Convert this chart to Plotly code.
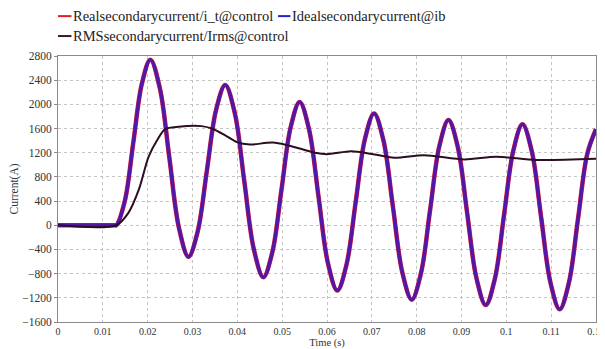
import plotly.graph_objects as go

# Time (s) and current (A) samples
t_current = [0, 0.0125, 0.013, 0.0149, 0.0168, 0.0187, 0.0206,
             0.02273, 0.02485, 0.02698, 0.0291,
             0.03115, 0.0332, 0.03525, 0.0373,
             0.03943, 0.04155, 0.04368, 0.0458,
             0.04783, 0.04985, 0.05188, 0.0539,
             0.056, 0.0581, 0.0602, 0.0623,
             0.06435, 0.0664, 0.06845, 0.0705,
             0.0726, 0.0747, 0.0768, 0.0789,
             0.08095, 0.083, 0.08505, 0.0871,
             0.08918, 0.09125, 0.09333, 0.0954,
             0.09745, 0.0995, 0.10155, 0.1036,
             0.10568, 0.10775, 0.10983, 0.1119,
             0.11395, 0.116, 0.11805, 0.12]
real_current = [0, 0, 0, 401, 1370, 2339, 2740,
                2264, 1110, -44, -520,
                -105, 900, 1905, 2320,
                1856, 730, -396, -860,
                -437, 590, 1617, 2040,
                1584, 480, -624, -1080,
                -652, 385, 1422, 1850,
                1400, 310, -780, -1230,
                -796, 255, 1306, 1740,
                1293, 210, -873, -1320,
                -883, 175, 1233, 1670,
                1223, 140, -943, -1390,
                -952, 115, 1180, 1590]
ideal_current = list(real_current)

t_rms = [0, 0.013, 0.0157, 0.018, 0.0202, 0.0221, 0.0239, 0.0269, 0.032,
         0.0343, 0.0373, 0.0399, 0.0428, 0.048, 0.0539, 0.0573, 0.06,
         0.0654, 0.07, 0.075, 0.0817, 0.0906, 0.0978, 0.1067, 0.12]
rms_current = [0, 0, 205, 584, 1132, 1406, 1590, 1630, 1640,
               1600, 1488, 1375, 1335, 1368, 1270, 1200, 1176,
               1225, 1180, 1118, 1160, 1090, 1134, 1080, 1100]

x_ticks = [0, 0.01, 0.02, 0.03, 0.04, 0.05, 0.06, 0.07, 0.08, 0.09, 0.1, 0.11, 0.12]
y_ticks = [-1600, -1200, -800, -400, 0, 400, 800, 1200, 1600, 2000, 2400, 2800]

names = ["Realsecondarycurrent/i_t@control",
         "Idealsecondarycurrent@ib",
         "RMSsecondarycurrent/Irms@control"]
legend_colors = ["#e22228", "#2424c8", "#3a1828"]

serif = '"Liberation Serif", "Times New Roman", serif'

fig = go.Figure()
fig.add_trace(go.Scatter(
    x=t_current, y=real_current, mode="lines", name=names[0], showlegend=False,
    line=dict(color="#d81e3a", width=4.5, shape="spline", smoothing=1.0)))
fig.add_trace(go.Scatter(
    x=t_current, y=ideal_current, mode="lines", name=names[1], showlegend=False,
    line=dict(color="rgba(40,20,200,0.75)", width=3.5, shape="spline", smoothing=1.0)))
fig.add_trace(go.Scatter(
    x=t_rms, y=rms_current, mode="lines", name=names[2], showlegend=False,
    line=dict(color="#2a0f22", width=2, shape="spline", smoothing=0.8)))

axis_common = dict(
    showgrid=True, gridcolor="#c4c4c4", griddash="dot", gridwidth=1,
    showline=True, linecolor="#8a8a8a", linewidth=1, mirror=True,
    zeroline=False, automargin=False,
)

fig.update_xaxes(
    range=[0, 0.12], tickvals=x_ticks, ticks="",
    tickfont=dict(family=serif, size=10, color="#333"),
    title=dict(text="Time (s)", font=dict(family=serif, size=10.5, color="#333"), standoff=2),
    **axis_common)
fig.update_yaxes(
    range=[-1600, 2800], tickvals=y_ticks,
    ticks="outside", ticklen=3, tickcolor="#8a8a8a",
    tickfont=dict(family=serif, size=11.5, color="#333"),
    title=dict(text="Current(A)", font=dict(family=serif, size=11.5, color="#333"), standoff=6),
    **axis_common)

# Legend drawn in the reference's compact style: short coloured dash + name
legend_items = [  # (dash x0, dash x1, text x, row y) in paper units
    (0.000, 0.025, 0.024, 1.150),
    (0.409, 0.432, 0.431, 1.150),
    (0.000, 0.025, 0.024, 1.075),
]
for (x0, x1, xt, yy), name, col in zip(legend_items, names, legend_colors):
    fig.add_shape(type="line", xref="paper", yref="paper", x0=x0, x1=x1, y0=yy, y1=yy,
                  line=dict(color=col, width=2))
    fig.add_annotation(text=name, xref="paper", yref="paper", x=xt, y=yy,
                       xanchor="left", yanchor="middle", showarrow=False,
                       font=dict(family=serif, size=14.5, color="#222"))

fig.update_layout(
    width=603, height=341,
    margin=dict(l=50, r=15, t=48, b=27, autoexpand=False),
    paper_bgcolor="white", plot_bgcolor="white",
    showlegend=False,
)

fig.write_html("out.html")
